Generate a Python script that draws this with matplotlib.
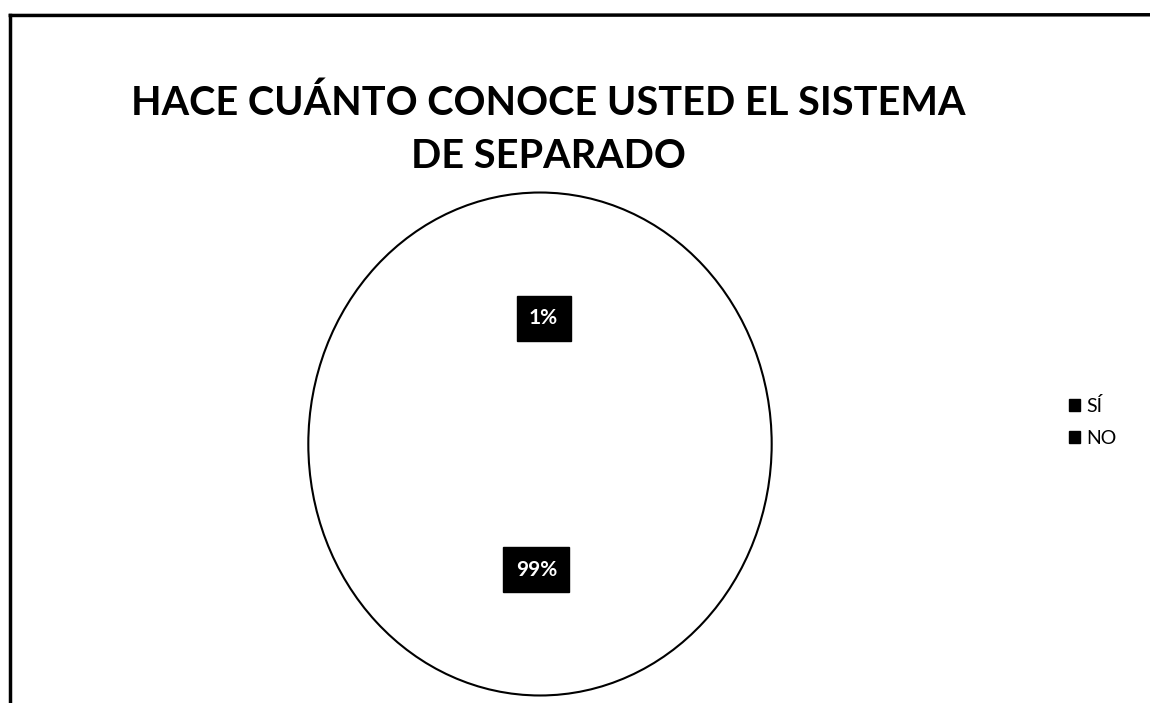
import matplotlib.pyplot as plt
from matplotlib.patches import Patch, Circle
from matplotlib.lines import Line2D

# data
categories = ['SÍ', 'NO']
values = [1, 99]
title = 'HACE CUÁNTO CONOCE USTED EL SISTEMA\nDE SEPARADO'

plt.rcParams['font.family'] = ['Lato', 'DejaVu Sans']

fig = plt.figure(figsize=(11.5, 7.03), dpi=100)

# scanned page frame (left and top rule)
fig.add_artist(Line2D([0.009, 0.009], [0.0, 0.978], color='black', lw=2.5))
fig.add_artist(Line2D([0.009, 1.0], [0.978, 0.979], color='black', lw=2.5))

fig.text(0.477, 0.88, title, ha='center', va='top', fontsize=28.5,
         fontweight='bold', linespacing=1.55)

# pie area: 468 x 508 px, center ~ (540, 444)
ax = fig.add_axes([306 / 1150, 1 - 698 / 703, 468 / 1150, 508 / 703])
wedges, texts, autotexts = ax.pie(
    values, startangle=90, counterclock=False,
    colors=['white', 'white'], autopct='%1.0f%%', pctdistance=0.5,
    wedgeprops=dict(linewidth=0),
    textprops=dict(color='white', fontsize=15, fontweight='bold'))
for t in autotexts:
    t.set_bbox(dict(boxstyle='square,pad=0.6', facecolor='black', edgecolor='black'))
ax.add_patch(Circle((0, 0), 1.0, fill=False, edgecolor='black', lw=1.5))
ax.set_aspect('auto')
ax.set_xlim(-1.01, 1.01)
ax.set_ylim(-1.01, 1.01)

handles = [Patch(facecolor='black', edgecolor='black') for _ in categories]
fig.legend(handles, categories, loc='center left',
           bbox_to_anchor=(0.914, 0.400), frameon=False, fontsize=14,
           handlelength=0.6, handleheight=0.6, handletextpad=0.3,
           labelspacing=0.75)

fig.savefig('out.png', dpi=100, facecolor='white')
